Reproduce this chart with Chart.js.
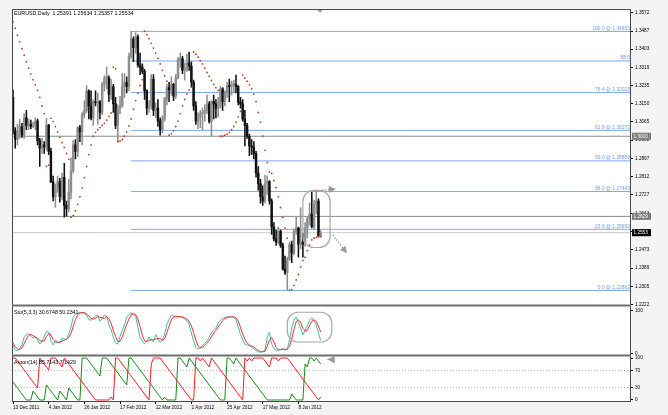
<!DOCTYPE html>
<html>
<head>
<meta charset="utf-8">
<script src="https://cdn.jsdelivr.net/npm/chart.js@4.4.1/dist/chart.umd.min.js"></script>
<style>
html, body { margin: 0; padding: 0; background: #f4f4f4; }
canvas { display: block; }
</style>
</head>
<body>
<canvas id="chart1" width="668" height="415"></canvas>
<script>
// EURUSD daily, 13 Dec 2011 .. 22 Jun 2012 (one value per bar)
const openP = [
  1.3180,1.3025,1.2985,1.3020,1.3045,1.3005,1.3085,1.3050,1.3055,1.3045,
  1.3050,1.3070,1.2980,1.2945,1.2960,1.2950,1.3050,1.2930,1.2790,1.2720,
  1.2760,1.2790,1.2720,1.2810,1.2680,1.2665,1.2740,1.2840,1.2960,1.2930,
  1.3040,1.3020,1.3100,1.3120,1.3210,1.3140,1.3085,1.3160,1.3155,1.3160,
  1.3110,1.3240,1.3270,1.3270,1.3195,1.3230,1.3150,1.3050,1.3130,1.3140,
  1.3230,1.3250,1.3230,1.3370,1.3450,1.3410,1.3460,1.3330,1.3320,1.3300,
  1.3210,1.3130,1.3140,1.3265,1.3120,1.3130,1.3070,1.3030,1.3080,1.3175,
  1.3225,1.3215,1.3240,1.3185,1.3270,1.3355,1.3360,1.3305,1.3310,1.3340,
  1.3325,1.3250,1.3140,1.3070,1.3090,1.3105,1.3110,1.3120,1.3150,1.3070,
  1.3160,1.3150,1.3130,1.3140,1.3220,1.3160,1.3200,1.3235,1.3230,1.3240,
  1.3240,1.3230,1.3160,1.3150,1.3080,1.3050,1.3000,1.2955,1.2950,1.2920,
  1.2830,1.2780,1.2720,1.2700,1.2780,1.2790,1.2700,1.2580,1.2525,1.2510,
  1.2560,1.2495,1.2385,1.2370,1.2430,1.2500,1.2460,1.2560,1.2575,1.2500,
  1.2510,1.2500,1.2575,1.2620,1.2640,1.2580,1.2685,1.2700,1.25391
];
const highP = [
  1.3215,1.3040,1.3055,1.3080,1.3060,1.3105,1.3120,1.3080,1.3075,1.3065,
  1.3085,1.3080,1.2990,1.2990,1.2975,1.3083,1.3055,1.2945,1.2815,1.2780,
  1.2815,1.2805,1.2830,1.2875,1.2700,1.2800,1.2900,1.2980,1.2985,1.3045,
  1.3050,1.3110,1.3165,1.3235,1.3215,1.3210,1.3170,1.3210,1.3200,1.3165,
  1.3250,1.3280,1.3320,1.3280,1.3265,1.3240,1.3180,1.3145,1.3185,1.3290,
  1.3290,1.3275,1.3385,1.3486,1.3460,1.3480,1.3470,1.3385,1.3335,1.3310,
  1.3215,1.3165,1.3285,1.3285,1.3155,1.3170,1.3085,1.3095,1.3180,1.3240,
  1.3250,1.3275,1.3245,1.3285,1.3365,1.3385,1.3370,1.3340,1.3380,1.3390,
  1.3345,1.3260,1.3160,1.3110,1.3120,1.3130,1.3145,1.3190,1.3160,1.3165,
  1.3190,1.3170,1.3180,1.3230,1.3225,1.3210,1.3250,1.3265,1.3255,1.3260,
  1.3283,1.3235,1.3180,1.3170,1.3120,1.3060,1.3010,1.2985,1.2975,1.2930,
  1.2860,1.2800,1.2770,1.2820,1.2815,1.2795,1.2710,1.2600,1.2565,1.2580,
  1.2565,1.2505,1.2445,1.2440,1.2510,1.2515,1.2570,1.2625,1.2580,1.2670,
  1.2550,1.2600,1.2625,1.2690,1.2740,1.2705,1.2748,1.2710,1.25634
];
const lowP = [
  1.3010,1.2945,1.2960,1.2990,1.2995,1.2990,1.3030,1.3030,1.3035,1.3040,
  1.3030,1.2960,1.2860,1.2920,1.2920,1.2935,1.2915,1.2785,1.2700,1.2670,
  1.2740,1.2695,1.2705,1.2625,1.2630,1.2650,1.2710,1.2830,1.2895,1.2905,
  1.2975,1.2960,1.3085,1.3110,1.3080,1.3075,1.3050,1.3140,1.3055,1.3080,
  1.3100,1.3210,1.3220,1.3160,1.3170,1.3110,1.3035,1.2975,1.3105,1.3135,
  1.3180,1.3200,1.3210,1.3360,1.3345,1.3385,1.3320,1.3285,1.3290,1.3170,
  1.3100,1.3110,1.3125,1.3095,1.3085,1.3045,1.3005,1.3015,1.3070,1.3145,
  1.3160,1.3190,1.3165,1.3175,1.3265,1.3320,1.3290,1.3260,1.3300,1.3305,
  1.3230,1.3120,1.3055,1.3035,1.3040,1.3030,1.3070,1.3105,1.3060,1.3000,
  1.3080,1.3085,1.3090,1.3130,1.3120,1.3140,1.3180,1.3160,1.3190,1.3200,
  1.3200,1.3145,1.3130,1.3070,1.2955,1.2990,1.2910,1.2915,1.2895,1.2810,
  1.2750,1.2690,1.2680,1.2690,1.2730,1.2685,1.2545,1.2515,1.2495,1.2500,
  1.2485,1.2380,1.2360,1.2288,1.2425,1.2415,1.2450,1.2545,1.2440,1.2480,
  1.2440,1.2490,1.2530,1.2590,1.2575,1.2570,1.2640,1.2535,1.25357
];
const closeP = [
  1.3025,1.2985,1.3020,1.3045,1.3005,1.3085,1.3050,1.3055,1.3045,1.3050,
  1.3070,1.2980,1.2945,1.2960,1.2950,1.3050,1.2930,1.2790,1.2720,1.2760,
  1.2790,1.2720,1.2810,1.2680,1.2665,1.2740,1.2840,1.2960,1.2930,1.3040,
  1.3020,1.3100,1.3120,1.3210,1.3140,1.3085,1.3160,1.3155,1.3160,1.3110,
  1.3240,1.3270,1.3270,1.3195,1.3230,1.3150,1.3050,1.3130,1.3140,1.3230,
  1.3250,1.3230,1.3370,1.3450,1.3410,1.3460,1.3330,1.3320,1.3300,1.3210,
  1.3130,1.3140,1.3265,1.3120,1.3130,1.3070,1.3030,1.3080,1.3175,1.3225,
  1.3215,1.3240,1.3185,1.3270,1.3355,1.3360,1.3305,1.3310,1.3340,1.3325,
  1.3250,1.3140,1.3070,1.3090,1.3105,1.3110,1.3120,1.3150,1.3070,1.3160,
  1.3150,1.3130,1.3140,1.3220,1.3160,1.3200,1.3235,1.3230,1.3240,1.3240,
  1.3230,1.3160,1.3150,1.3080,1.3050,1.3000,1.2955,1.2950,1.2920,1.2830,
  1.2780,1.2720,1.2700,1.2780,1.2790,1.2700,1.2580,1.2525,1.2510,1.2560,
  1.2495,1.2385,1.2370,1.2430,1.2500,1.2460,1.2560,1.2575,1.2500,1.2510,
  1.2500,1.2575,1.2620,1.2640,1.2580,1.2685,1.2700,1.2539,1.25534
];
// Parabolic SAR dots
const sarP = [
  1.3530,1.3500,1.3468,1.3437,1.3405,1.3375,1.3345,1.3315,1.3288,1.3262,
  1.3238,1.3212,1.3180,1.3140,1.3105,1.2860,1.2866,1.3083,1.3068,1.3045,
  1.3020,1.2995,1.2970,1.2948,1.2920,1.2893,1.2625,1.2633,1.2655,1.2685,
  1.2720,1.2760,1.2808,1.2860,1.2915,1.2960,1.3000,1.3018,1.3030,1.3040,
  1.3050,1.3060,1.3075,1.3092,1.3108,1.3320,1.3312,1.2975,1.2978,1.2985,
  1.3000,1.3020,1.3048,1.3080,1.3125,1.3165,1.3200,1.3235,1.3262,1.3486,
  1.3470,1.3452,1.3430,1.3408,1.3385,1.3360,1.3335,1.3305,1.3280,1.3255,
  1.3005,1.3012,1.3025,1.3045,1.3070,1.3105,1.3140,1.3170,1.3195,1.3215,
  1.3228,1.3390,1.3380,1.3366,1.3350,1.3335,1.3315,1.3295,1.3278,1.3258,
  1.3240,1.3225,1.3212,1.3000,1.3000,1.3005,1.3010,1.3018,1.3030,1.3045,
  1.3065,1.3090,1.3115,1.3283,1.3270,1.3255,1.3238,1.3220,1.3195,1.3160,
  1.3110,1.3065,1.3000,1.2935,1.2878,1.2835,1.2828,1.2795,1.2762,1.2720,
  1.2670,1.2625,1.2575,1.2528,1.2288,1.2290,1.2310,1.2335,1.2360,1.2395,
  1.2425,1.2440,1.2470,1.2497,1.2520,1.2528,1.2532,1.2534,1.2535
];
// Stochastic (5,3,3)
const stoMain = [
  20,8,6,12,20,38,45,47,42,36, 39,33,22,28,40,52,50,30,20,30,
  28,24,36,34,33,46,62,85,93,95, 97,96,94,90,80,78,84,88,90,76,
  82,90,88,68,56,38,25,22,40,55, 67,85,92,96,92,88,62,38,30,23,
  30,39,30,28,44,34,26,32,46,68, 80,90,88,86,86,87,86,80,78,68,
  48,30,14,11,14,19,24,30,38,50, 55,60,72,78,82,85,86,86,86,85,
  80,62,45,32,22,20,18,15,11,7, 4,3,4,8,38,50,22,12,8,8,
  10,11,8,10,32,60,78,86,72,60, 44,55,66,78,84,76,68,48,30.67
];
const stoSignal = [
  25,16,11,9,13,23,34,43,45,42, 39,36,31,28,30,40,47,44,33,27,
  26,27,29,31,34,38,47,64,80,91, 95,96,96,93,88,83,81,83,87,85,
  83,83,87,82,71,54,40,28,29,39, 54,69,81,91,93,92,81,63,43,30,
  28,31,33,32,34,35,35,31,35,49, 65,79,86,88,87,86,86,84,81,75,
  65,49,31,18,13,15,19,24,31,39, 48,55,62,70,77,82,84,86,86,86,
  84,76,62,46,33,25,20,18,15,11, 7,5,4,5,17,32,37,28,14,9,
  9,10,10,10,17,34,57,75,79,73, 59,53,55,66,76,79,76,64,50.23
];
// Aroon (14)
const aroonUp = [
  42.9,35.7,28.6,21.4,14.3,7.1,0,0,0,21.4, 14.3,7.1,0,0,0,35.7,28.6,21.4,14.3,7.1,
  0,21.4,14.3,7.1,0,28.6,21.4,14.3,7.1,0, 0,100,100,100,92.9,85.7,78.6,71.4,64.3,57.1,
  100,100,100,92.9,85.7,78.6,71.4,64.3,57.1,50, 42.9,35.7,100,100,92.9,85.7,78.6,71.4,64.3,57.1,
  50,42.9,35.7,28.6,21.4,14.3,7.1,0,7.1,0, 0,0,0,0,100,100,92.9,85.7,78.6,100,
  92.9,85.7,78.6,71.4,64.3,57.1,50,42.9,35.7,28.6, 21.4,14.3,7.1,0,0,0,100,100,92.9,85.7,
  100,92.9,85.7,78.6,71.4,64.3,57.1,50,42.9,35.7, 28.6,21.4,14.3,7.1,0,0,0,0,0,0,
  0,0,0,0,0,14.3,7.1,0,0,0, 0,85.7,78.6,100,100,92.9,100,92.9,85.7
];
const aroonDown = [
  100,100,92.9,85.7,78.6,71.4,64.3,57.1,50,42.9, 35.7,28.6,100,92.9,85.7,78.6,71.4,100,100,100,
  92.9,85.7,78.6,100,92.9,85.7,78.6,71.4,64.3,57.1, 50,42.9,35.7,28.6,21.4,14.3,7.1,0,0,0,
  0,0,0,0,7.1,0,100,100,92.9,85.7, 78.6,71.4,64.3,57.1,50,42.9,35.7,28.6,21.4,14.3,
  7.1,0,85.7,100,100,100,100,92.9,85.7,78.6, 71.4,64.3,57.1,50,42.9,35.7,28.6,21.4,14.3,7.1,
  0,0,100,100,92.9,100,92.9,85.7,78.6,100, 92.9,85.7,78.6,71.4,64.3,57.1,50,42.9,35.7,28.6,
  21.4,14.3,7.1,0,100,92.9,100,92.9,100,100, 100,100,100,92.9,85.7,78.6,100,100,100,92.9,
  100,100,100,100,92.9,85.7,78.6,71.4,64.3,57.1, 50,42.9,35.7,28.6,21.4,14.3,7.1,0,7.1
];
const aroonLevels = [70, 30];

// panel captions
const mainCaption = 'EURUSD,Daily  1.25391 1.25634 1.25357 1.25534';
const stoCaption = 'Sto(5,3,3) 30.6748 50.2341';
const aroonCaption = 'Aroon(14) 85.7143 7.1429';

// axis text
const dateLabels = ['13 Dec 2011', '4 Jan 2012', '26 Jan 2012', '17 Feb 2012', '12 Mar 2012',
  '2 Apr 2012', '25 Apr 2012', '17 May 2012', '8 Jun 2012'];
const dateIdx = [0, 16, 32, 48, 64, 80, 96, 112, 128];
const priceTicks = [1.3572, 1.3487, 1.3403, 1.3319, 1.3235, 1.3150, 1.3066, 1.2982, 1.2897,
  1.2812, 1.2728, 1.2643, 1.2559, 1.2474, 1.2390, 1.2305, 1.2222];
const priceTickLabels = ['1.3572', '1.3487', '1.3403', '1.3319', '1.3235', '1.3150', '1.3065',
  '1.2982', '1.2897', '1.2812', '1.2727', '1.2643', '1.2558', '1.2473', '1.2389', '1.2305', '1.2222'];
const stoTicks = [100, 0];
const aroonTicks = [100, 70, 30, 0];

// fibo retracement from the 24 Feb high
const fibPct = ['100.0', '88.6', '76.4', '61.8', '50.0', '38.2', '23.6', '0.0'];
const fibPrice = [1.34853, 1.33486, 1.32023, 1.30272, 1.28859, 1.27443, 1.25692, 1.22862];
const fibStart = 53;
const hLines = [1.3000, 1.2629];

const last = closeP.length - 1;
const xMin = -0.45, xMax = 277.15;
const FONT = '"Liberation Sans", Arial, sans-serif';
Chart.defaults.font.family = FONT;
Chart.defaults.color = '#000';

const isBull = closeP.map((c, i) => c >= openP[i]);
const candleCol = isBull.map(b => b ? '#8e8e8e' : '#111111');

const datasets = [];
datasets.push({
  type: 'bar', label: 'wick', yAxisID: 'y',
  data: highP.map((h, i) => ({ x: i, y: [lowP[i], h] })),
  backgroundColor: candleCol, barThickness: 0.9, grouped: false, order: 5
});
datasets.push({
  type: 'bar', label: 'body', yAxisID: 'y',
  data: openP.map((o, i) => ({ x: i, y: [o, closeP[i]] })),
  backgroundColor: candleCol, barThickness: 1.8, minBarLength: 1, grouped: false, order: 4
});
datasets.push({
  type: 'line', label: 'sar', yAxisID: 'y',
  data: sarP.map((v, i) => ({ x: i, y: v })),
  showLine: false, pointRadius: 0.9, pointBorderWidth: 0,
  pointBackgroundColor: '#b8441c', order: 1
});
fibPrice.forEach((p, k) => {
  datasets.push({
    type: 'line', label: 'fib' + k, yAxisID: 'y',
    data: [{ x: fibStart, y: p }, { x: xMax, y: p }],
    borderColor: '#7da6ec', borderWidth: 1, pointRadius: 0, order: 8
  });
});
hLines.forEach((p, k) => {
  datasets.push({
    type: 'line', label: 'h' + k, yAxisID: 'y',
    data: [{ x: xMin, y: p }, { x: xMax, y: p }],
    borderColor: '#8a8a8a', borderWidth: 1, pointRadius: 0, order: 9
  });
});
datasets.push({
  type: 'line', label: 'bid', yAxisID: 'y',
  data: [{ x: xMin, y: closeP[last] }, { x: xMax, y: closeP[last] }],
  borderColor: '#c9c9c9', borderWidth: 1, pointRadius: 0, order: 9
});
datasets.push({
  type: 'line', label: 'stoSignal', yAxisID: 'yS',
  data: stoSignal.map((v, i) => ({ x: i, y: v })),
  borderColor: '#ff2b2b', borderWidth: 1, pointRadius: 0, order: 2
});
datasets.push({
  type: 'line', label: 'stoMain', yAxisID: 'yS',
  data: stoMain.map((v, i) => ({ x: i, y: v })),
  borderColor: '#3dbdb6', borderWidth: 1, pointRadius: 0, order: 3
});
aroonLevels.forEach((lv, k) => {
  datasets.push({
    type: 'line', label: 'lvl' + k, yAxisID: 'yA',
    data: [{ x: xMin, y: lv }, { x: xMax, y: lv }],
    borderColor: '#b5b5b5', borderWidth: 1, borderDash: [1, 2], pointRadius: 0, order: 9
  });
});
datasets.push({
  type: 'line', label: 'aroonUp', yAxisID: 'yA',
  data: aroonUp.map((v, i) => ({ x: i, y: v })),
  borderColor: '#178a17', borderWidth: 1, pointRadius: 0, order: 3
});
datasets.push({
  type: 'line', label: 'aroonDown', yAxisID: 'yA',
  data: aroonDown.map((v, i) => ({ x: i, y: v })),
  borderColor: '#ff1c1c', borderWidth: 1, pointRadius: 0, order: 2
});

function rightAxis(min, max, tickVals, labelOf, weight) {
  return {
    type: 'linear', position: 'right', stack: 'panels', stackWeight: weight,
    min: min, max: max,
    afterBuildTicks: s => { s.ticks = tickVals.map(v => ({ value: v })); },
    afterFit: s => { s.width = 37; },
    border: { display: false },
    grid: { drawOnChartArea: false, drawTicks: true, tickLength: 2, color: '#000' },
    ticks: { autoSkip: false, padding: 2, font: { size: 4.7 }, color: '#000',
      callback: (v, i) => labelOf(i) }
  };
}

function roundRect(ctx, x0, y0, x1, y1, r) {
  ctx.beginPath();
  ctx.moveTo(x0 + r, y0);
  ctx.arcTo(x1, y0, x1, y1, r);
  ctx.arcTo(x1, y1, x0, y1, r);
  ctx.arcTo(x0, y1, x0, y0, r);
  ctx.arcTo(x0, y0, x1, y0, r);
  ctx.closePath();
  ctx.stroke();
}

function arrow(ctx, ax, ay, bx, by) {
  const ang = Math.atan2(by - ay, bx - ax);
  const L = 7;
  ctx.save();
  ctx.strokeStyle = '#9a9a9a';
  ctx.lineWidth = 1.4;
  ctx.setLineDash([1.4, 1.6]);
  ctx.beginPath();
  ctx.moveTo(ax, ay);
  ctx.lineTo(bx - L * 0.8 * Math.cos(ang), by - L * 0.8 * Math.sin(ang));
  ctx.stroke();
  ctx.setLineDash([]);
  ctx.fillStyle = '#9a9a9a';
  ctx.beginPath();
  ctx.moveTo(bx, by);
  ctx.lineTo(bx - L * Math.cos(ang) + 3.5 * Math.sin(ang), by - L * Math.sin(ang) - 3.5 * Math.cos(ang));
  ctx.lineTo(bx - L * Math.cos(ang) - 3.5 * Math.sin(ang), by - L * Math.sin(ang) + 3.5 * Math.cos(ang));
  ctx.closePath();
  ctx.fill();
  ctx.restore();
}

function priceBox(ctx, x, y, text, bg) {
  ctx.fillStyle = bg;
  ctx.fillRect(x, y - 3.5, 19, 7);
  ctx.fillStyle = '#ffffff';
  ctx.font = '4.7px ' + FONT;
  ctx.textAlign = 'left';
  ctx.textBaseline = 'middle';
  ctx.fillText(text, x + 1.5, y + 0.3);
}

const decor = {
  id: 'decor',
  beforeDraw(chart) {
    const { ctx, chartArea: a } = chart;
    ctx.save();
    ctx.fillStyle = '#f4f4f4';
    ctx.fillRect(0, 0, chart.width, chart.height);
    ctx.fillStyle = '#ffffff';
    ctx.fillRect(a.left, a.top, a.right - a.left, a.bottom - a.top);
    ctx.restore();
  },
  afterDatasetsDraw(chart) {
    const { ctx, chartArea: a } = chart;
    const x = chart.scales.x, y = chart.scales.y, yS = chart.scales.yS, yA = chart.scales.yA;
    ctx.save();
    // fibo labels
    ctx.font = '4.9px ' + FONT;
    ctx.fillStyle = '#6f9be6';
    ctx.textAlign = 'right';
    ctx.textBaseline = 'bottom';
    fibPrice.forEach((p, k) => {
      const t = fibPct[k] === '88.6' ? '88.6' : fibPct[k] + ' @ ' + p.toFixed(5);
      ctx.fillText(t, a.right - 1, y.getPixelForValue(p) - 0.5);
    });
    // marked zones
    ctx.strokeStyle = '#a8a8a8';
    ctx.lineWidth = 1.2;
    roundRect(ctx, x.getPixelForValue(130), y.getPixelForValue(1.2749),
      x.getPixelForValue(142.2), y.getPixelForValue(1.2485), 11);
    roundRect(ctx, x.getPixelForValue(123), yS.getPixelForValue(97),
      x.getPixelForValue(143), yS.getPixelForValue(27), 11);
    arrow(ctx, x.getPixelForValue(138.6), y.getPixelForValue(1.2750),
      x.getPixelForValue(144.8), y.getPixelForValue(1.2756));
    arrow(ctx, x.getPixelForValue(143.4), y.getPixelForValue(1.2544),
      x.getPixelForValue(149.8), y.getPixelForValue(1.2458));
    // aroon marker
    const tx = x.getPixelForValue(142.5), ty = yA.getPixelForValue(97);
    ctx.fillStyle = '#9a9a9a';
    ctx.beginPath();
    ctx.moveTo(tx + 4, ty - 3);
    ctx.lineTo(tx + 4, ty + 4);
    ctx.lineTo(tx - 4, ty);
    ctx.closePath();
    ctx.fill();
    ctx.restore();
  },
  afterDraw(chart) {
    const { ctx, chartArea: a } = chart;
    const y = chart.scales.y, yS = chart.scales.yS, x = chart.scales.x;
    ctx.save();
    // frame and panel separators
    ctx.strokeStyle = '#4a4a4a';
    ctx.lineWidth = 1;
    ctx.strokeRect(a.left + 0.5, a.top + 0.5, a.right - a.left - 1, a.bottom - a.top - 1);
    ctx.strokeStyle = '#6e6e6e';
    ctx.lineWidth = 2.2;
    [yS.top, yS.bottom].forEach(v => {
      ctx.beginPath();
      ctx.moveTo(a.left, v);
      ctx.lineTo(a.right, v);
      ctx.stroke();
    });
    // chart shift marker
    const sx = x.getPixelForValue(last - 0.3);
    ctx.fillStyle = '#9a9a9a';
    ctx.beginPath();
    ctx.moveTo(sx - 2.5, a.top + 1);
    ctx.lineTo(sx + 2.5, a.top + 1);
    ctx.lineTo(sx, a.top + 4);
    ctx.closePath();
    ctx.fill();
    // price boxes on the axis
    hLines.forEach(p => priceBox(ctx, a.right + 1, y.getPixelForValue(p), p.toFixed(4), '#7d7d7d'));
    priceBox(ctx, a.right + 1, y.getPixelForValue(closeP[last]), closeP[last].toFixed(4), '#000000');
    // panel captions
    ctx.fillStyle = '#000';
    ctx.font = '5.3px ' + FONT;
    ctx.textAlign = 'left';
    ctx.textBaseline = 'middle';
    ctx.fillText(mainCaption, a.left + 2, a.top + 5);
    ctx.fillText(stoCaption, a.left + 2, yS.top + 7);
    ctx.fillText(aroonCaption, a.left + 2, yS.bottom + 7);
    ctx.restore();
  }
};

new Chart(document.getElementById('chart1'), {
  type: 'bar',
  data: { datasets: datasets },
  options: {
    responsive: false,
    devicePixelRatio: 1,
    animation: false,
    events: [],
    layout: { padding: { left: 12, top: 9, right: 0, bottom: 0 } },
    plugins: { legend: { display: false }, tooltip: { enabled: false } },
    scales: {
      x: {
        type: 'linear', position: 'bottom', min: xMin, max: xMax, offset: false,
        afterBuildTicks: s => { s.ticks = dateIdx.map(v => ({ value: v })); },
        afterFit: s => { s.height = 13; },
        border: { display: false },
        grid: { offset: false, drawOnChartArea: false, drawTicks: true, tickLength: 2, color: '#000' },
        ticks: { autoSkip: false, maxRotation: 0, align: 'start', padding: 1,
          font: { size: 4.7 }, color: '#000',
          callback: (v, i) => dateLabels[i] }
      },
      y: rightAxis(1.22164, 1.35891, priceTicks, i => priceTickLabels[i], 296.5),
      yS: rightAxis(-4.7, 112.9, stoTicks, i => String(stoTicks[i]), 50),
      yA: rightAxis(-4.8, 106, aroonTicks, i => String(aroonTicks[i]), 46.5)
    }
  },
  plugins: [decor]
});
</script>
</body>
</html>
